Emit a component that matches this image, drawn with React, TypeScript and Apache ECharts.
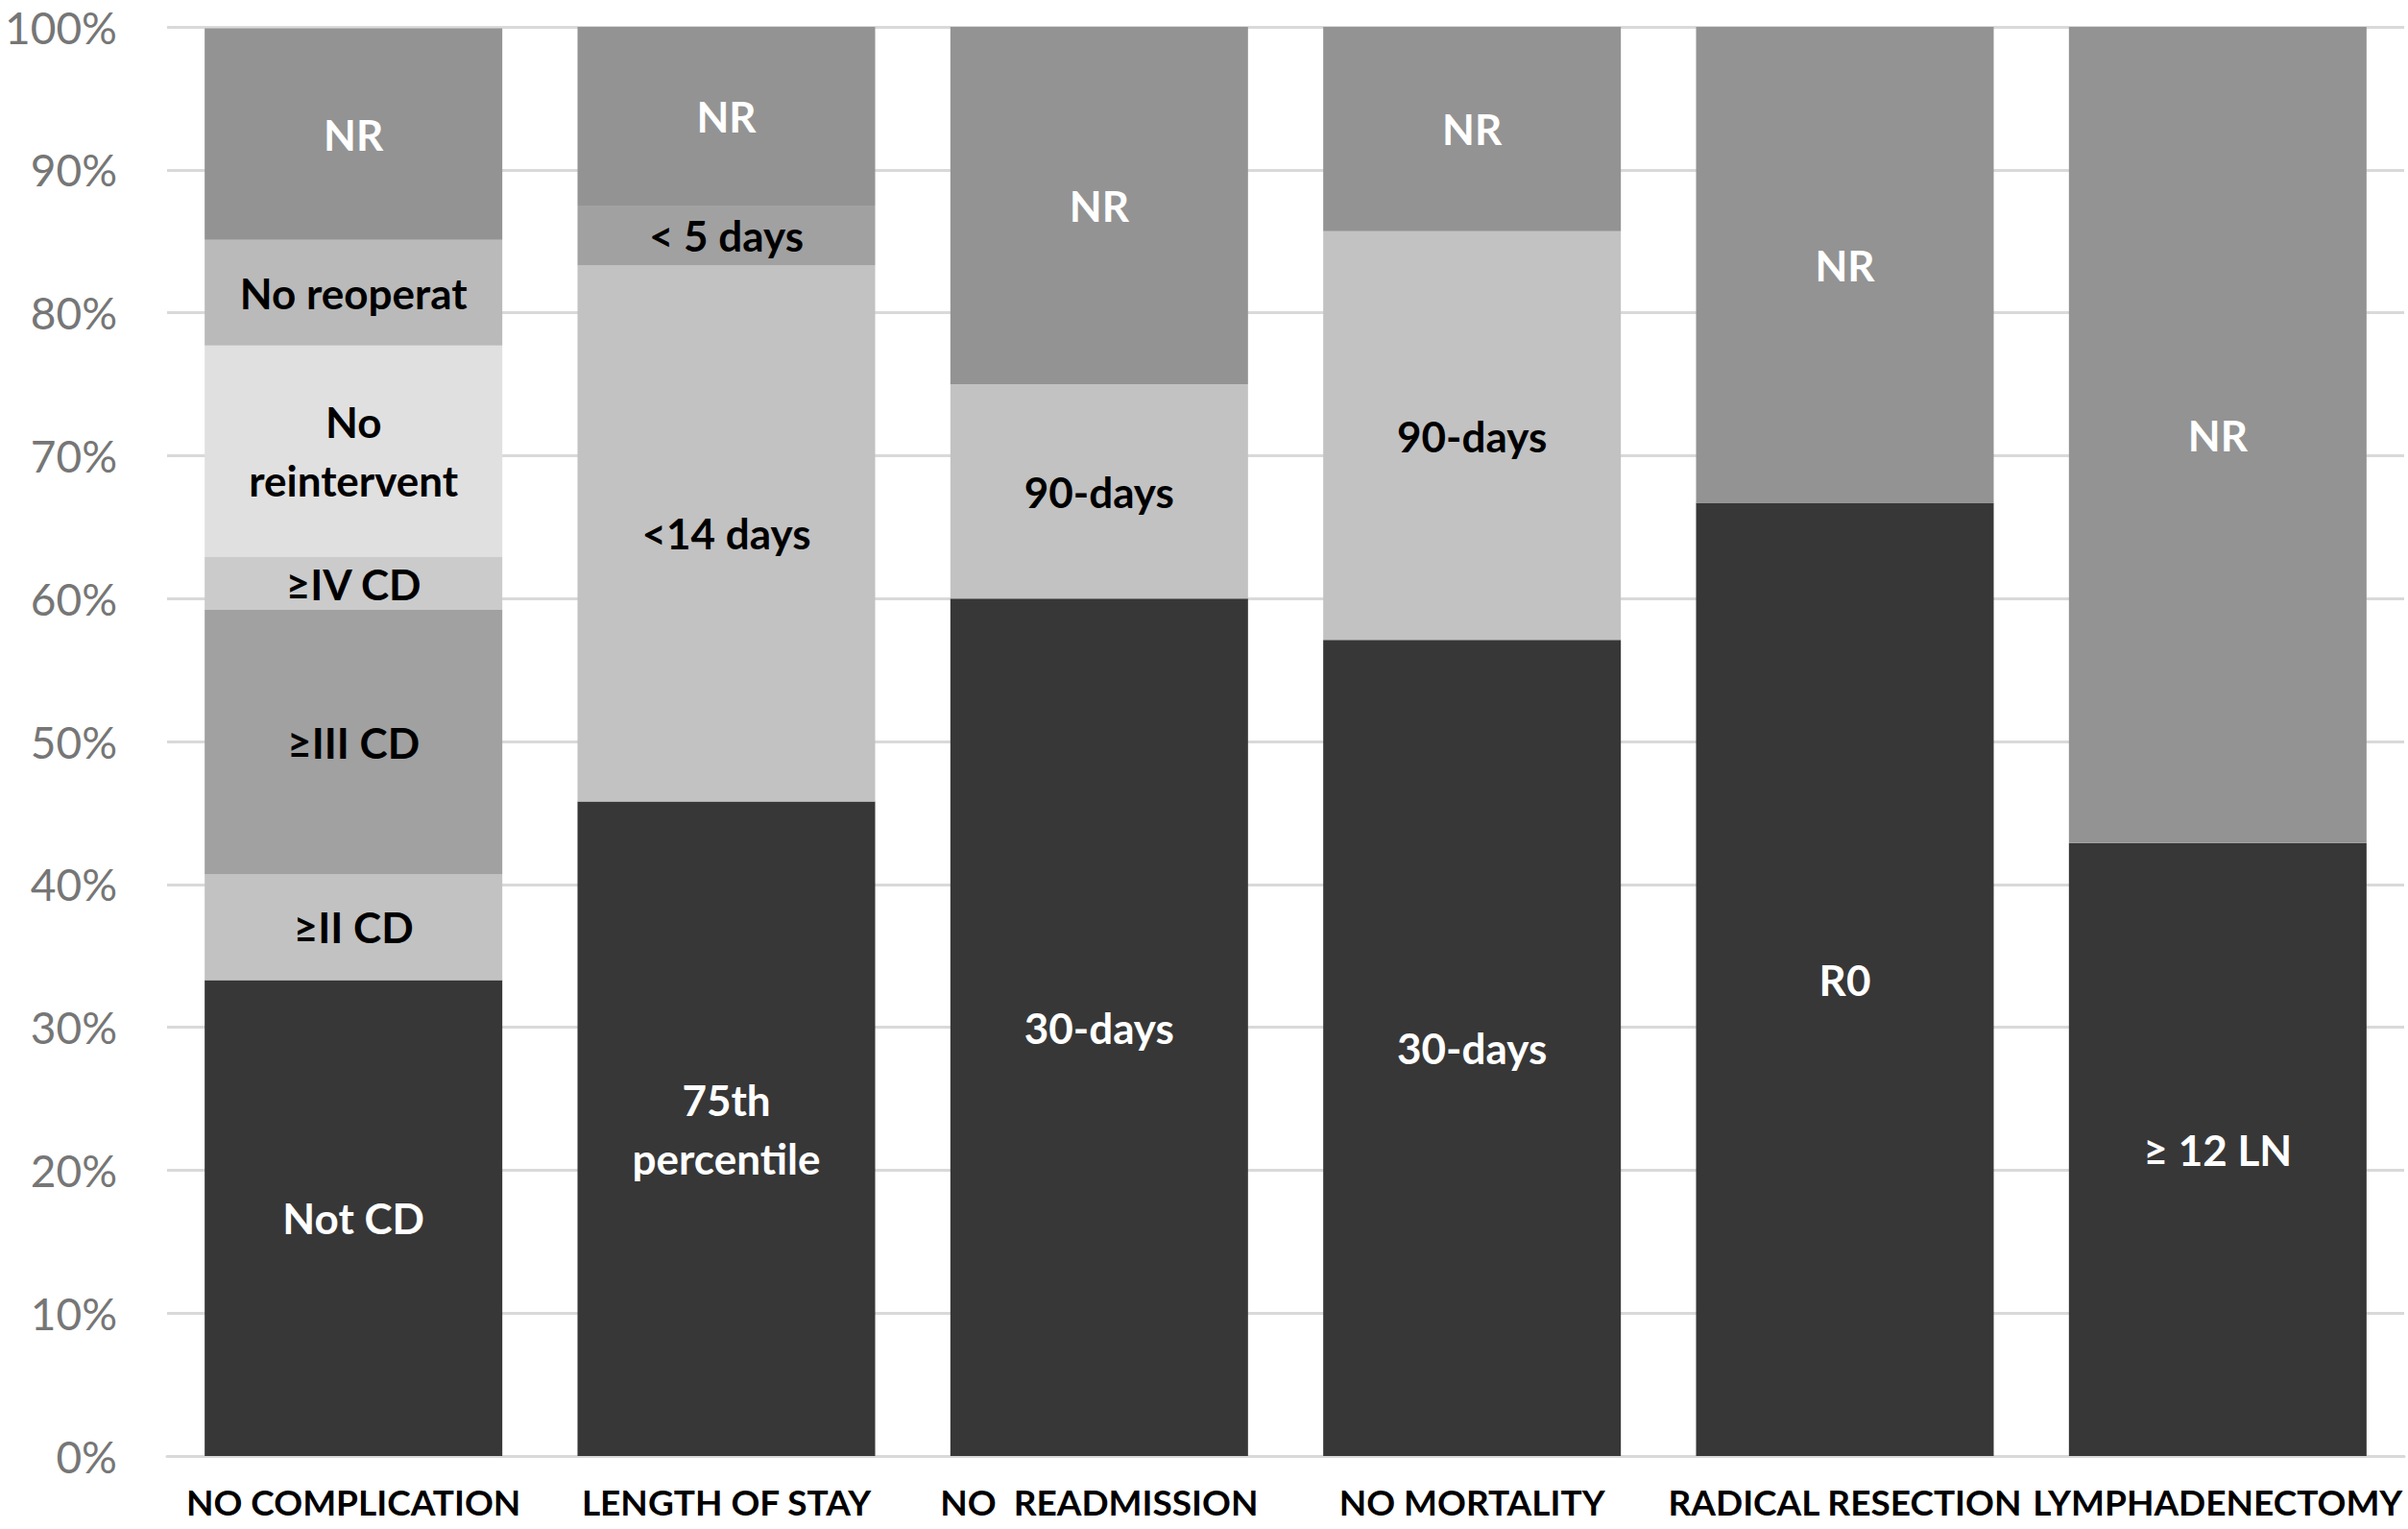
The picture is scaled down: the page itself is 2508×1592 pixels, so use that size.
import React, { useEffect, useRef } from "react";
import * as echarts from "echarts";

const categories = [
  "NO COMPLICATION",
  "LENGTH OF STAY",
  "NO  READMISSION",
  "NO MORTALITY",
  "RADICAL RESECTION",
  "LYMPHADENECTOMY",
];

const yTicks = [0, 10, 20, 30, 40, 50, 60, 70, 80, 90, 100];

// Stack levels, bottom to top (percent of each bar)
const level1Values = [33.3, 45.8, 60.0, 57.1, 66.7, 42.9];
const level1Labels = ["Not CD", "75th\npercentile", "30-days", "30-days", "R0", "≥ 12 LN"];

const level2Values = [7.4, 37.5, 15.0, 28.6, null, null];
const level2Labels = ["≥II CD", "<14 days", "90-days", "90-days", "", ""];

const level3Values = [18.5, 4.2, null, null, null, null];
const level3Labels = ["≥III CD", "< 5 days", "", "", "", ""];

const level4Values = [3.7, null, null, null, null, null];
const level4Labels = ["≥IV CD", "", "", "", "", ""];

const level5Values = [14.8, null, null, null, null, null];
const level5Labels = ["No\nreintervent", "", "", "", "", ""];

const level6Values = [7.4, null, null, null, null, null];
const level6Labels = ["No reoperat", "", "", "", "", ""];

const nrValues = [14.8, 12.5, 25.0, 14.3, 33.3, 57.1];
const nrLabels = ["NR", "NR", "NR", "NR", "NR", "NR"];

const FONT = "Lato, 'Open Sans', sans-serif";

function makeSeries(
  name: string,
  values: (number | null)[],
  labels: string[],
  color: string,
  labelColor: string
) {
  return {
    name,
    type: "bar",
    stack: "total",
    barWidth: 310,
    itemStyle: { color },
    label: {
      show: true,
      position: "inside",
      color: labelColor,
      fontFamily: FONT,
      fontWeight: "bold",
      fontSize: 44,
      lineHeight: 61,
      formatter: (p: any) => labels[p.dataIndex] || "",
    },
    data: values.map((v) => (v === null ? "-" : v)),
  };
}

export default function App() {
  const ref = useRef<HTMLDivElement>(null);

  useEffect(() => {
    if (!ref.current) return;
    const chart = echarts.init(ref.current, undefined, { renderer: "svg" });
    chart.setOption({
      animation: false,
      backgroundColor: "#ffffff",
      grid: { left: 174, right: 4, top: 28, bottom: 76, containLabel: false },
      xAxis: {
        type: "category",
        data: categories,
        axisLine: { show: true, lineStyle: { color: "#d9d9d9", width: 3 } },
        axisTick: { show: false },
        axisLabel: {
          interval: 0,
          color: "#000000",
          fontFamily: FONT,
          fontWeight: "bold",
          fontSize: 37,
          lineHeight: 37,
          margin: 29,
        },
      },
      yAxis: {
        type: "value",
        min: yTicks[0],
        max: yTicks[yTicks.length - 1],
        interval: 10,
        axisLine: { show: false },
        axisTick: { show: false },
        splitLine: { lineStyle: { color: "#d9d9d9", width: 3 } },
        axisLabel: {
          formatter: "{value}%",
          color: "#767676",
          fontFamily: FONT,
          fontSize: 46,
          lineHeight: 46,
          margin: 52,
        },
      },
      series: [
        makeSeries("level1", level1Values, level1Labels, "#373737", "#ffffff"),
        makeSeries("level2", level2Values, level2Labels, "#c2c2c2", "#000000"),
        makeSeries("level3", level3Values, level3Labels, "#a1a1a1", "#000000"),
        makeSeries("level4", level4Values, level4Labels, "#cbcbcb", "#000000"),
        makeSeries("level5", level5Values, level5Labels, "#e0e0e0", "#000000"),
        makeSeries("level6", level6Values, level6Labels, "#bababa", "#000000"),
        makeSeries("NR", nrValues, nrLabels, "#939393", "#ffffff"),
      ],
    });
    return () => chart.dispose();
  }, []);

  return (
    <div
      ref={ref}
      style={{ position: "fixed", left: 0, top: 0, width: 2508, height: 1592, background: "#fff" }}
    />
  );
}
